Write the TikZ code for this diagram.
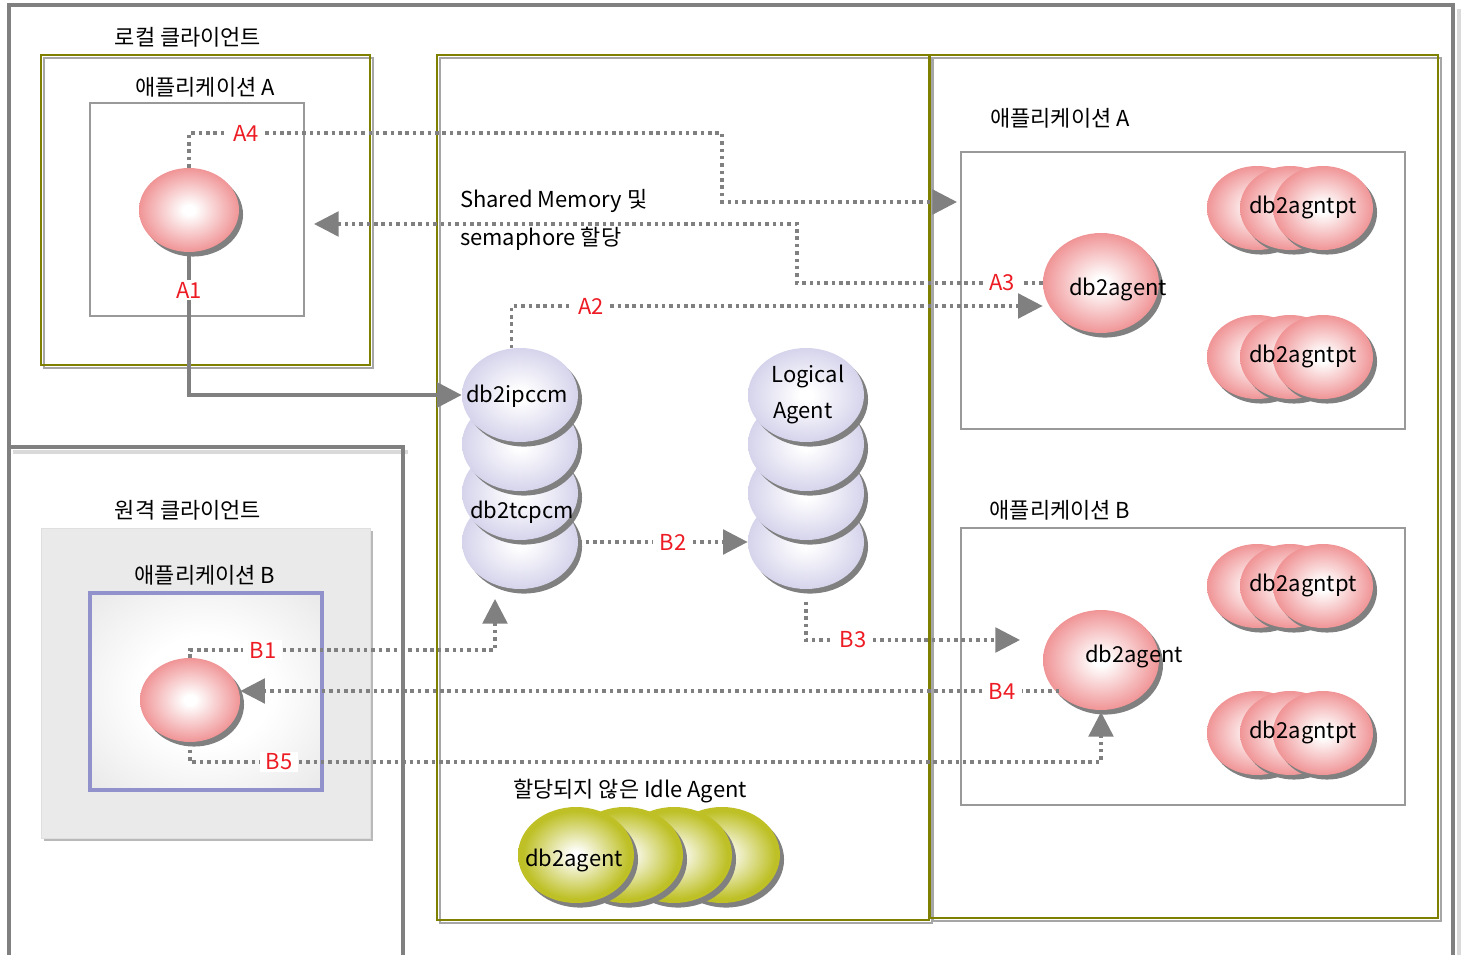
\documentclass[tikz,border=0pt]{standalone}
\usepackage{fontspec}
\setmainfont{Noto Sans CJK KR}
\usetikzlibrary{shapes.geometric,shadows,arrows.meta}

\definecolor{framegray}{RGB}{128,128,128}
\definecolor{boxolive}{RGB}{128,128,0}
\definecolor{ballpink}{RGB}{238,134,136}
\definecolor{balllav}{RGB}{206,204,232}
\definecolor{ballolive}{RGB}{190,192,38}
\definecolor{labred}{RGB}{237,28,36}
\definecolor{remgray}{RGB}{234,234,234}
\definecolor{rembox}{RGB}{145,145,204}

\pgfdeclareradialshading{pinkball}{\pgfpoint{0bp}{0bp}}{color(0bp)=(white); color(3bp)=(white); color(28bp)=(ballpink); color(50bp)=(ballpink)}
\pgfdeclareradialshading{lavball}{\pgfpoint{0bp}{0bp}}{color(0bp)=(white); color(3bp)=(white); color(29bp)=(balllav); color(50bp)=(balllav)}
\pgfdeclareradialshading{oliveball}{\pgfpoint{0bp}{0bp}}{color(0bp)=(white); color(2bp)=(white); color(23bp)=(ballolive); color(50bp)=(ballolive)}
\pgfdeclareradialshading{remglow}{\pgfpoint{0bp}{0bp}}{color(0bp)=(white); color(14bp)=(white); color(34bp)=(remgray); color(50bp)=(remgray)}

\begin{document}
\begin{tikzpicture}[x=0.02cm,y=-0.02cm,
  every node/.style={font=\fontsize{12.5}{15}\selectfont},
  frame/.style={draw=framegray, line width=2.3pt},
  olivebox/.style={draw=boxolive, line width=0.75pt},
  boxshadow/.style={draw=gray!70, line width=0.6pt},
  appbox/.style={draw=gray!80, line width=0.7pt},
  ball/.style={ellipse, inner sep=0pt, shade,
    drop shadow={opacity=1, fill=framegray, shadow xshift=2.3pt, shadow yshift=-2.6pt}},
  pinkbig/.style={ball, shading=pinkball, minimum width=2.32cm, minimum height=2cm},
  pinksmall/.style={ball, shading=pinkball, minimum width=2cm, minimum height=1.68cm},
  lav/.style={ball, shading=lavball, minimum width=2.32cm, minimum height=1.88cm},
  idle/.style={ball, shading=oliveball, minimum width=2.32cm, minimum height=1.92cm},
  lbl/.style={text=labred, fill=white, inner xsep=3.5pt, inner ysep=1pt},
  dotline/.style={draw=framegray, line width=2pt, dash pattern=on 2pt off 2.2pt},
  solidline/.style={draw=framegray, line width=2.3pt},
  bigtip/.style={-{Triangle[length=14pt,width=14pt]}}]
\useasboundingbox (0,0) rectangle (1465,955);

% outer frame and divider
\draw[gray!30, line width=2pt] (13,452) -- (408,452);
\draw[gray!30, line width=2pt] (1459,9) -- (1459,955);
\draw[frame] (9,955) -- (9,5) -- (1453,5) -- (1453,955);
\draw[frame] (9,447) -- (403,447) -- (403,955);

% local client
\draw[boxshadow] (44,58) rectangle (373,368);
\draw[olivebox] (41,55) rectangle (370,365);
\draw[appbox] (90,103) rectangle (304,316);
\node (locname) at (188,37) {로컬 클라이언트};
\node (appAname) at (205,87) {애플리케이션 A};

% remote client
\fill[gray!55] (44,531) rectangle (373,841);
\filldraw[fill=remgray, draw=gray!25] (41,528) rectangle (370,838);
\shade[shading=remglow] (90,593) rectangle (322,790);
\draw[draw=rembox, line width=2pt] (90,593) rectangle (322,790);
\node (remname) at (188,510) {원격 클라이언트};
\node (appBname) at (205,575) {애플리케이션 B};

% server boxes
\draw[boxshadow] (440,58) rectangle (932,923);
\draw[olivebox] (437,55) rectangle (929,920);
\draw[boxshadow] (933,58) rectangle (1441,921);
\draw[olivebox] (930,55) rectangle (1438,918);
\draw[appbox] (961,152) rectangle (1405,429);
\draw[appbox] (961,528) rectangle (1405,805);
\node (rappA) at (1060,118) {애플리케이션 A};
\node (rappB) at (1060,510) {애플리케이션 B};

% client balls
\node[pinksmall] (ballA) at (189,210) {};
\node[pinksmall] (ballB) at (190,700) {};

% communication managers and logical agents
\foreach \k/\yy in {4/542,3/493,2/444,1/395}{
  \node[lav] (cm\k) at (520,\yy) {};
  \node[lav] (la\k) at (806,\yy) {};
}
\node (ipname) at (517,396) {db2ipccm};
\node (tcname) at (522,512) {db2tcpcm};
\node (laname1) at (808,377) {Logical};
\node (laname2) at (803,413) {Agent};

% agents of the two applications
\node[pinkbig] (agA) at (1101,283) {};
\node[pinkbig] (agB) at (1101,660) {};
\node (agAname) at (1118,290) {db2agent};
\node (agBname) at (1134,657) {db2agent};
\foreach \g/\yy in {1/208,2/357,3/586,4/733}{
  \foreach \k/\xx in {1/1257,2/1290,3/1323}
    \node[pinksmall] (pt\g\k) at (\xx,\yy) {};
  \node (ptname\g) at (1303,\yy) {db2agntpt};
}

% idle agents
\foreach \k/\xx in {4/722,3/674,2/625,1/576}
  \node[idle] (idle\k) at (\xx,855) {};
\node (idleag) at (574,861) {db2agent};
\node (idlename) at (630,791) {할당되지 않은 Idle Agent};

\node[anchor=west] (shm1) at (454,201) {Shared Memory 및};
\node[anchor=west] (shm2) at (454,239) {semaphore 할당};

% step labels
\node[lbl] (lA1) at (189,290) {A1};
\node[lbl] (lA2) at (591,306) {A2};
\node[lbl] (lA3) at (1002,283) {A3};
\node[lbl] (lA4) at (246,133) {A4};
\node[lbl] (lB1) at (263,650) {B1};
\node[lbl] (lB2) at (673,542) {B2};
\node[lbl] (lB3) at (853,640) {B3};
\node[lbl] (lB4) at (1002,691) {B4};
\node[lbl] (lB5) at (279,762) {B5};

\coordinate (a4turn) at (722,202);
\coordinate (a4end) at (957,202);
\coordinate (a3turn) at (797,224);
\coordinate (a3end) at (314,224);
\coordinate (b1end) at (495,599);
\coordinate (b3end) at (1020,640);
\coordinate (b5end) at (1101,712);

% local application A
\draw[solidline] (ballA.south) -- (lA1.north);
\draw[solidline,bigtip] (lA1.south) |- (cm1.west);
\draw[dotline] (cm1.100) |- (lA2.west);
\draw[dotline,bigtip] (lA2.east) -- (lA2.east -| agA.west);
\draw[dotline] (agA.west) -- (lA3.east);
\draw[dotline,bigtip] (lA3.west) -| (a3turn) -- (a3end);
\draw[dotline] (ballA.north) |- (lA4.west);
\draw[dotline,bigtip] (lA4.east) -| (a4turn) -- (a4end);

% remote application B
\draw[dotline] (ballB.north) |- (lB1.west);
\draw[dotline,bigtip] (lB1.east) -| (b1end);
\draw[dotline] (cm4.east) -- (lB2.west);
\draw[dotline,bigtip] (lB2.east) -- (la4.west);
\draw[dotline] ([yshift=-7pt]la4.south) |- (lB3.west);
\draw[dotline,bigtip] (lB3.east) -- (b3end);
\draw[dotline] (lB4.east -| agB.220) -- (lB4.east);
\draw[dotline,bigtip] (lB4.west) -- (lB4.west -| ballB.east);
\draw[dotline] (ballB.south) |- (lB5.west);
\draw[dotline,bigtip] (lB5.east) -| (b5end);
\end{tikzpicture}
\end{document}
